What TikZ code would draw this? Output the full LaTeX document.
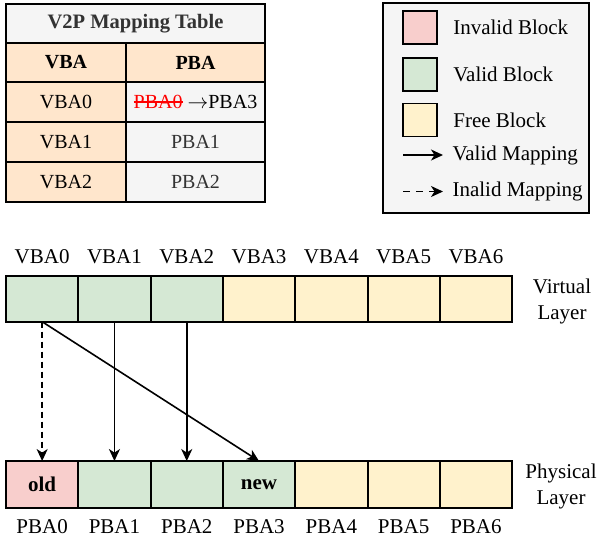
\documentclass[tikz,border=0pt]{standalone}
\usepackage{fontspec}
\setmainfont{Liberation Serif}
\usetikzlibrary{arrows.meta,positioning}
\definecolor{validgreen}{HTML}{D5E8D4}
\definecolor{freeyellow}{HTML}{FFF2CC}
\definecolor{invalidred}{HTML}{F8CECC}
\definecolor{headorange}{HTML}{FFE6CC}
\definecolor{cellgray}{HTML}{F5F5F5}
\definecolor{darktext}{HTML}{333333}
\newcommand{\redstrike}[1]
{%
% args: text to cross out
    \textcolor{red}{\setbox0\hbox{#1}\rlap{\rule[0.3em]{\wd0}{1.4pt}}\box0}%
}
\tikzset{blockcell/.style={draw,rectangle,line width=2pt,minimum width=72.3pt,inner sep=0,outer sep=0},
    tablecell/.style={draw,rectangle,line width=2pt,inner sep=0,outer sep=0,font=\fontsize{20}{24}\selectfont},
    swatch/.style={draw,rectangle,line width=1.6pt,minimum width=34pt,minimum height=33pt,inner sep=0},
    maparrow/.style={-{Stealth[length=12pt,width=11pt,inset=3.5pt]},line width=1.6pt},
    bigtext/.style={font=\fontsize{21}{26}\selectfont}
}

\begin{document}
\begin{tikzpicture}[x=1pt,y=-1pt]
\useasboundingbox (0,0) rectangle (598,539);

%% mapping table
\node (title) [tablecell,fill=cellgray,minimum width=259pt,minimum height=39pt,
    font=\fontsize{20.5}{24}\selectfont\bfseries,text=darktext] at (135.5,23.5) {V2P Mapping Table};
\node (headVBA) [tablecell,fill=headorange,minimum width=120pt,minimum height=39pt,
    font=\fontsize{20}{24}\selectfont\bfseries] at (66,62.5) {VBA};
\node (headPBA) [tablecell,fill=headorange,minimum width=139pt,minimum height=39pt,
    font=\fontsize{20}{24}\selectfont\bfseries] at (195.5,62.5) {PBA};

\foreach \i/\y in {0/102,1/142,2/182}
    \node (rowV\i) [tablecell,fill=headorange,minimum width=120pt,minimum height=40pt] at (66,\y) {VBA\i};

\node (rowP0) [tablecell,fill=cellgray,minimum width=139pt,minimum height=40pt] at (195.5,102)
    {\redstrike{PBA0} $\rightarrow$PBA3};
\node (rowP1) [tablecell,fill=cellgray,minimum width=139pt,minimum height=40pt,text=darktext] at (195.5,142) {PBA1};
\node (rowP2) [tablecell,fill=cellgray,minimum width=139pt,minimum height=40pt,text=darktext] at (195.5,182) {PBA2};

%% legend
\node (legend) [draw,line width=1.5pt,fill=cellgray,minimum width=206pt,minimum height=210pt,inner sep=0] at (486,108) {};

\node (swInvalid) [swatch,fill=invalidred] at (420,27.5) {};
\node (swValid) [swatch,fill=validgreen] at (420,74.5) {};
\node (swFree) [swatch,fill=freeyellow] at (420,120) {};
\node [bigtext,right=12pt of swInvalid] {Invalid Block};
\node [bigtext,right=12pt of swValid] {Valid Block};
\node [bigtext,right=12pt of swFree] {Free Block};

\coordinate (validA) at (403,155);
\coordinate (validB) at (443,155);
\coordinate (invalidA) at (403,191.5);
\coordinate (invalidB) at (443,191.5);
\draw [maparrow] (validA) -- (validB);
\draw [maparrow,dash pattern=on 7pt off 6pt] (invalidA) -- (invalidB);
\node [bigtext,right=6pt of validB] {Valid Mapping};
\node [bigtext,right=6pt of invalidB] {Inalid Mapping};

%% virtual layer
\foreach \i/\fillc in {0/validgreen,1/validgreen,2/validgreen,3/freeyellow,4/freeyellow,5/freeyellow,6/freeyellow}
{
    \node (v\i) [blockcell,fill=\fillc,minimum height=46pt] at ({42.15+72.3*\i},298.7) {};
    \node (vl\i) [bigtext,above=8pt of v\i] {VBA\i};
}
\node (vlayer) [bigtext,align=center] at (562,301) {Virtual\\Layer};

%% physical layer
\foreach \i/\fillc/\txt in {0/invalidred/old,1/validgreen/,2/validgreen/,3/validgreen/new,4/freeyellow/,5/freeyellow/,6/freeyellow/}
{
    \node (p\i) [blockcell,fill=\fillc,minimum height=46.7pt,font=\fontsize{21}{26}\selectfont\bfseries] at ({42.15+72.3*\i},484.4) {\txt};
    \node (pl\i) [bigtext,below=8.5pt of p\i] {PBA\i};
}
\node (player) [bigtext,align=center] at (561,486) {Physical\\Layer};

%% mappings
\draw [maparrow,dash pattern=on 6pt off 4pt] (v0) -- (p0);
\draw [maparrow] (v1) -- (p1);
\draw [maparrow] (v2) -- (p2);
\draw [maparrow] (v0.south) -- (p3.north);

\end{tikzpicture}
\end{document}
